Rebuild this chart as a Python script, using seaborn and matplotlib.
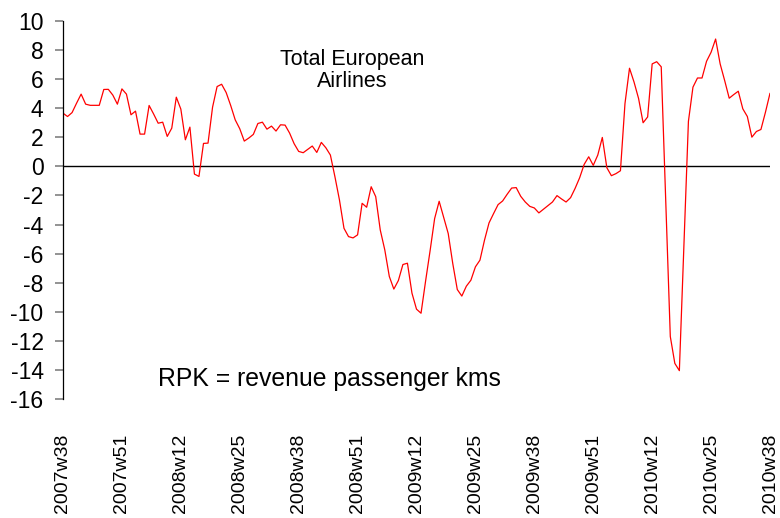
import numpy as np
import pandas as pd
import matplotlib
matplotlib.use("Agg")
import matplotlib.pyplot as plt
import seaborn as sns

# weekly RPK growth, % y/y, 2007w38 .. 2010w38
rpk_growth = [
    3.66, 3.43, 3.70, 4.35, 4.97, 4.28, 4.20, 4.20, 4.20, 5.29,
    5.30, 4.90, 4.28, 5.33, 4.97, 3.55, 3.80, 2.22, 2.22, 4.19,
    3.60, 2.97, 3.04, 2.06, 2.63, 4.76, 3.94, 1.83, 2.70, -0.53,
    -0.69, 1.58, 1.60, 4.07, 5.49, 5.65, 5.08, 4.19, 3.20, 2.59,
    1.74, 1.95, 2.20, 2.95, 3.04, 2.56, 2.77, 2.43, 2.86, 2.84,
    2.29, 1.56, 1.03, 0.94, 1.17, 1.40, 0.96, 1.65, 1.28, 0.78,
    -0.71, -2.31, -4.26, -4.83, -4.92, -4.71, -2.54, -2.81, -1.40, -2.08,
    -4.37, -5.74, -7.57, -8.44, -7.85, -6.75, -6.66, -8.72, -9.82, -10.10,
    -7.90, -5.80, -3.59, -2.40, -3.50, -4.62, -6.68, -8.47, -8.92, -8.24,
    -7.83, -6.91, -6.45, -5.08, -3.89, -3.25, -2.63, -2.38, -1.92, -1.49,
    -1.46, -2.06, -2.45, -2.75, -2.86, -3.20, -2.95, -2.70, -2.45, -2.01,
    -2.24, -2.45, -2.15, -1.51, -0.78, 0.14, 0.66, 0.07, 0.78, 1.99,
    -0.09, -0.64, -0.50, -0.30, 4.32, 6.75, 5.80, 4.67, 3.00, 3.40,
    7.05, 7.20, 6.85, -2.40, -11.70, -13.55, -14.05, -5.50, 3.10, 5.45,
    6.08, 6.08, 7.23, 7.85, 8.76, 7.05, 5.90, 4.69, 4.94, 5.17,
    3.96, 3.43, 2.01, 2.40, 2.54, 3.73, 5.03,
]

tick_labels = [
    "2007w38", "2007w51", "2008w12", "2008w25", "2008w38", "2008w51",
    "2009w12", "2009w25", "2009w38", "2009w51", "2010w12", "2010w25",
    "2010w38",
]
tick_step = 13

df = pd.DataFrame({"week": np.arange(len(rpk_growth)), "growth": rpk_growth})

sns.set_theme(style="white")
plt.rcParams["font.family"] = ["Liberation Sans", "DejaVu Sans"]
plt.rcParams["axes.unicode_minus"] = False
plt.rcParams["text.color"] = "black"

fig = plt.figure(figsize=(7.8, 5.18), dpi=100)
ax = fig.add_axes([63 / 780, 119 / 518, 707 / 780, 378 / 518])

sns.lineplot(data=df, x="week", y="growth", color="#ff0000", linewidth=0.9, ax=ax)
ax.axhline(0, color="black", linewidth=1.0, zorder=1)

ax.set_xlim(0, len(rpk_growth) - 1)
ax.set_ylim(-16, 10)
ax.set_yticks(range(-16, 11, 2))
ax.set_xticks(range(0, tick_step * len(tick_labels), tick_step))
ax.set_xticklabels(tick_labels, rotation=90, fontsize=14)
ax.tick_params(axis="x", length=0, pad=25, labelcolor="black")
ax.tick_params(axis="y", direction="out", length=6, width=1.2, color="#808080",
               pad=8, labelsize=16.5, labelcolor="black", left=True)
ax.set_xlabel("")
ax.set_ylabel("")

for side in ["top", "right", "bottom"]:
    ax.spines[side].set_visible(False)
ax.spines["left"].set_color("black")
ax.spines["left"].set_linewidth(0.9)

fig.text(352 / 780, 1 - 70.5 / 518, "Total European\nAirlines", ha="center",
         va="center", fontsize=15.5, linespacing=1.1, color="black")
fig.text(158 / 780, 1 - 379 / 518, "RPK = revenue passenger kms", ha="left",
         va="center", fontsize=17.8, color="black")

fig.savefig("out.png", dpi=100)
